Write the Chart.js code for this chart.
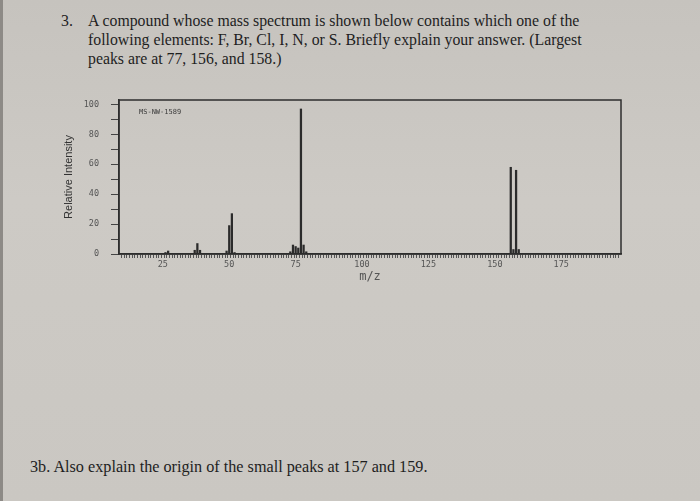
<!DOCTYPE html>
<html>
<head>
<meta charset="utf-8">
<script src="https://cdn.jsdelivr.net/npm/chart.js@4.4.1/dist/chart.umd.min.js"></script>
<style>
  html, body { margin: 0; padding: 0; }
  body {
    width: 700px; height: 501px; overflow: hidden; position: relative;
    background: linear-gradient(180deg, #c6c3be 0%, #cdcac5 40%, #cac7c2 100%);
    font-family: "Liberation Serif", "Times New Roman", serif;
    color: #1e1e1e;
  }
  #edge { position: absolute; left: 0; top: 0; width: 3px; height: 501px; background: #8d8a86; }
  .q { position: absolute; font-size: 15.8px; line-height: 19px; white-space: nowrap; }
  #num { left: 61px; top: 11px; }
  #qtext { left: 88px; top: 11px; }
  #q3b { left: 30px; top: 458px; font-size: 16.2px; }
  #wrap { position: absolute; left: 0; top: 0; width: 700px; height: 501px; }
</style>
</head>
<body>
<div id="edge"></div>
<div class="q" id="num">3.</div>
<div class="q" id="qtext">A compound whose mass spectrum is shown below contains which one of the<br>following elements: F, Br, Cl, I, N, or S. Briefly explain your answer. (Largest<br>peaks are at 77, 156, and 158.)</div>
<div class="q" id="q3b">3b. Also explain the origin of the small peaks at 157 and 159.</div>
<div id="wrap"><canvas id="c" width="700" height="501"></canvas></div>
<script>
// ---- data ----
const mzValues   = [26, 27, 37, 38, 39, 49, 50, 51, 52, 73, 74, 75, 76, 77, 78, 79, 156, 157, 158, 159];
const intensity  = [1, 2, 2.5, 7, 2.5, 2, 19, 27, 1, 1.5, 6, 5, 4, 97, 6, 1.5, 58, 3, 56, 3];
const xTickLabels = [25, 50, 75, 100, 125, 150, 175];
const yTickLabels = [0, 20, 40, 60, 80, 100];
const sampleCode = "MS-NW-1589";
const xTitle = "m/z";
const yTitle = "Relative Intensity";

const points = mzValues.map((m, i) => ({ x: m, y: intensity[i] }));

const framePlugin = {
  id: 'frame',
  afterDraw(chart) {
    const { ctx, chartArea: a } = chart;
    ctx.save();
    ctx.strokeStyle = '#2e2e2e';
    ctx.lineWidth = 1.5;
    ctx.strokeRect(a.left, a.top, a.right - a.left, a.bottom - a.top);
    ctx.fillStyle = '#3a3a3a';
    ctx.font = '7px "DejaVu Sans Mono", monospace';
    ctx.textBaseline = 'middle';
    ctx.fillText(sampleCode, a.left + 20, a.top + 12);
    ctx.restore();
  }
};

new Chart(document.getElementById('c'), {
  type: 'bar',
  data: {
    datasets: [{
      data: points,
      backgroundColor: '#2b2b2b',
      borderWidth: 0,
      barThickness: 1.6,
      grouped: false
    }]
  },
  options: {
    responsive: false,
    animation: false,
    events: [],
    layout: { padding: { left: 60, right: 79, top: 100, bottom: 215 } },
    plugins: { legend: { display: false }, tooltip: { enabled: false }, title: { display: false } },
    scales: {
      x: {
        type: 'linear', min: 9, max: 197,
        afterBuildTicks(s) {
          const t = [];
          for (let v = 10; v <= 196; v++) t.push({ value: v });
          s.ticks = t;
        },
        afterFit(s) { s.height = 32; },
        grid: { display: true, drawOnChartArea: false, tickLength: 4, tickColor: '#555', tickWidth: 1 },
        border: { display: true, color: '#2e2e2e', width: 1.5 },
        ticks: {
          autoSkip: false, maxRotation: 0, padding: 2,
          color: '#555', font: { family: 'DejaVu Sans Mono', size: 8.5 },
          callback: v => xTickLabels.includes(v) ? String(v) : ''
        },
        title: { display: true, text: xTitle, color: '#555', font: { family: 'DejaVu Sans Mono', size: 12 }, padding: { top: 0, bottom: 2 } }
      },
      y: {
        type: 'linear', min: 0, max: 103,
        afterBuildTicks(s) {
          const t = [];
          for (let v = 0; v <= 100; v += 10) t.push({ value: v });
          s.ticks = t;
        },
        afterFit(s) { s.width = 59; },
        grid: { display: true, drawOnChartArea: false, tickLength: 8, tickColor: '#444', tickWidth: 1 },
        border: { display: true, color: '#2e2e2e', width: 1.5 },
        ticks: {
          autoSkip: false, padding: 12,
          color: '#555', font: { family: 'DejaVu Sans Mono', size: 8.5 },
          callback: v => yTickLabels.includes(v) ? String(v) : ''
        },
        title: { display: true, text: yTitle, color: '#333', font: { family: 'Liberation Sans Narrow, Liberation Sans', size: 11 }, padding: { top: 2, bottom: 0 } }
      }
    }
  },
  plugins: [framePlugin]
});
</script>
</body>
</html>
